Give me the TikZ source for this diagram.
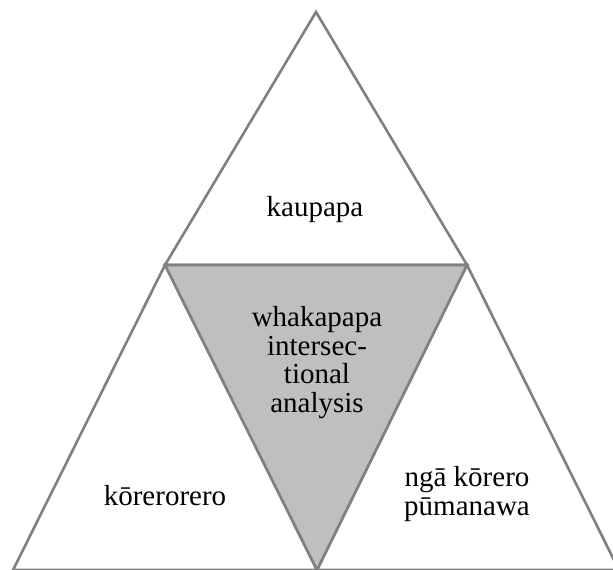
\documentclass[tikz,border=0pt]{standalone}
\usepackage{fontspec}
\setmainfont{Liberation Serif}
\newfontfamily\tnr{Liberation Serif}
\definecolor{edgegray}{RGB}{128,128,128}
\definecolor{fillgray}{RGB}{191,191,191}
\begin{document}
\begin{tikzpicture}[x=1pt,y=-1pt,
  tri/.style={draw=edgegray,line width=2.6pt,line join=miter,fill=white},
  midtri/.style={draw=edgegray,line width=2.6pt,line join=miter,fill=fillgray},
  lbl/.style={font=\tnr\fontsize{29}{28.5}\selectfont,align=center,inner sep=0pt,anchor=base}]
\useasboundingbox (0,0) rectangle (613,570);
\clip (0,0) rectangle (613,570);
\coordinate (apex) at (316,12);
\coordinate (tl) at (165,265);
\coordinate (tr) at (467,265);
\coordinate (bm) at (317,570);
\coordinate (bl) at (13,570);
\coordinate (br) at (619,570);
\draw[tri] (apex) -- (tl) -- (tr) -- cycle;
\draw[tri] (tl) -- (bl) -- (bm) -- cycle;
\draw[tri] (tr) -- (bm) -- (br) -- cycle;
\draw[midtri] (tl) -- (tr) -- (bm) -- cycle;
\node[lbl] (kaupapa) at (315,216) {kaupapa};
\node[lbl] (korero) at (165,505) {kōrerorero};
\node[lbl] (nga) at (467,515) {ngā kōrero\\pūmanawa};
\node[lbl] (whaka) at (317,412) {whakapapa\\intersec-\\tional\\analysis};
\end{tikzpicture}
\end{document}
